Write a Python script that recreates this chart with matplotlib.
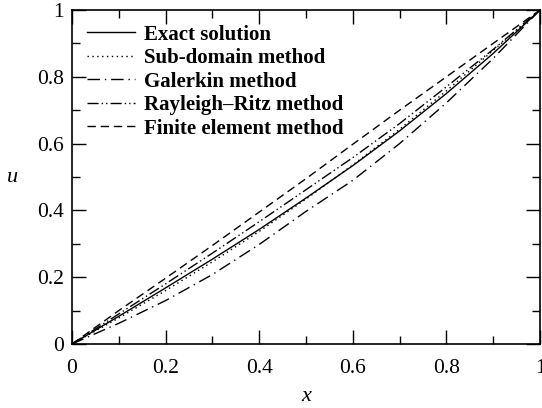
import matplotlib
matplotlib.use("Agg")
import matplotlib.pyplot as plt
from matplotlib.ticker import FixedLocator, FuncFormatter

plt.rcParams['font.family'] = ['Liberation Serif', 'DejaVu Serif']

x = [0.0, 0.1, 0.2, 0.3, 0.4, 0.5, 0.6, 0.7, 0.8, 0.9, 1.0]
u_exact = [0.0, 0.083, 0.168, 0.254, 0.343, 0.437, 0.534, 0.638, 0.750, 0.870, 1.0]
u_subdomain = [0.0, 0.078, 0.160, 0.246, 0.337, 0.434, 0.536, 0.643, 0.758, 0.879, 1.0]
u_galerkin = [0.0, 0.062, 0.130, 0.208, 0.298, 0.397, 0.490, 0.600, 0.722, 0.855, 1.0]
u_rayleigh = [0.0, 0.090, 0.180, 0.272, 0.366, 0.462, 0.558, 0.660, 0.770, 0.882, 1.0]
u_fem = [0.0, 0.100, 0.197, 0.295, 0.395, 0.495, 0.598, 0.700, 0.800, 0.900, 1.0]

labels = ["Exact solution", "Sub-domain method", "Galerkin method",
          "Rayleigh\u2013Ritz method", "Finite element method"]

major_ticks = [0.0, 0.2, 0.4, 0.6, 0.8, 1.0]
minor_ticks = [0.1, 0.3, 0.5, 0.7, 0.9]

fig = plt.figure(figsize=(5.42, 4.08), dpi=100)
ax = fig.add_axes([72/542, 1-344/408, 468/542, 334/408])

lw = 1.0
ax.plot(x, u_exact, color='black', lw=lw, ls='-', label=labels[0])
ax.plot(x, u_subdomain, color='black', lw=lw, ls=(0, (1, 2.5)), label=labels[1])
ax.plot(x, u_galerkin, color='black', lw=lw, ls=(0, (9, 3.5, 1, 3.5)), label=labels[2])
ax.plot(x, u_rayleigh, color='black', lw=lw, ls=(0, (8, 2.2, 1, 2.2, 1, 2.2)), label=labels[3])
ax.plot(x, u_fem, color='black', lw=lw, ls=(0, (6, 3.5)), label=labels[4])

ax.set_xlim(0, 1)
ax.set_ylim(0, 1)

def fmt(v, pos):
    if abs(v) < 1e-9:
        return '0'
    if abs(v - 1) < 1e-9:
        return '1'
    return f'{v:.1f}'

for axis in (ax.xaxis, ax.yaxis):
    axis.set_major_locator(FixedLocator(major_ticks))
    axis.set_minor_locator(FixedLocator(minor_ticks))
    axis.set_major_formatter(FuncFormatter(fmt))

ax.tick_params(which='both', direction='in', top=True, right=True, width=1.0,
               labelsize=15.5)
ax.tick_params(axis='x', which='major', pad=11)
ax.tick_params(axis='y', which='major', pad=6)
ax.tick_params(which='major', length=10)
ax.tick_params(which='minor', length=6)
for s in ax.spines.values():
    s.set_linewidth(1.2)

ax.set_xlabel('x', fontsize=16, fontstyle='italic', va='center')
ax.xaxis.set_label_coords(0.5, -0.158)
ax.set_ylabel('u', fontsize=16, fontstyle='italic', rotation=0, va='center')
ax.yaxis.set_label_coords(-0.127, 0.5)

leg = ax.legend(loc='upper left', frameon=False, prop={'weight': 'bold', 'size': 15},
                handlelength=2.3, handletextpad=0.45, labelspacing=0.17,
                borderaxespad=0.3)

fig.savefig('out.png', dpi=100)
